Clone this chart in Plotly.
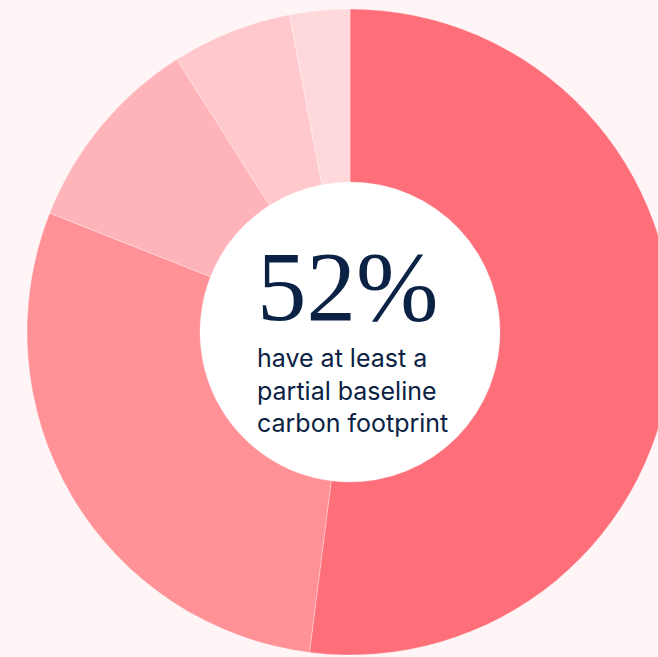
import plotly.graph_objects as go

labels = ["At least a partial baseline", "Segment 2", "Segment 3", "Segment 4", "Segment 5"]
values = [52, 29, 10, 6, 3]
colors = ["#FF6F7A", "#FF9197", "#FFB4BA", "#FFC8CC", "#FFD8DB"]
headline = "52%"
subtext = "have at least a<br>partial baseline<br>carbon footprint"

W, H = 700, 657
cx, cy, R, RH = 350, 332, 323, 150

fig = go.Figure(go.Pie(
    labels=labels, values=values, sort=False, direction="clockwise", rotation=0,
    hole=RH / R, textinfo="none", hoverinfo="label+percent",
    marker=dict(colors=colors, line=dict(color="rgba(255,255,255,0.3)", width=1)),
    domain=dict(x=[(cx - R) / W, (cx + R) / W], y=[(H - cy - R) / H, (H - cy + R) / H]),
    showlegend=False,
))

fig.add_shape(type="circle", xref="paper", yref="paper", layer="below",
              x0=(cx - RH) / W, x1=(cx + RH) / W,
              y0=(H - cy - RH) / H, y1=(H - cy + RH) / H,
              fillcolor="white", line=dict(width=0))

fig.add_annotation(text=headline, xref="paper", yref="paper", x=255 / W, y=(H - 286) / H,
                   xanchor="left", yanchor="middle", showarrow=False,
                   font=dict(family="Liberation Serif", size=99, color="#0B2244"))
fig.add_annotation(text=subtext, xref="paper", yref="paper", x=255 / W, y=(H - 390) / H,
                   xanchor="left", yanchor="middle", align="left", showarrow=False,
                   font=dict(family="Inter", size=25, color="#0B2244"))

fig.update_layout(width=W, height=H, margin=dict(l=0, r=0, t=0, b=0),
                  paper_bgcolor="#FFF5F6", plot_bgcolor="#FFF5F6")

fig.write_html("out.html", config={"displayModeBar": False},
               post_script="document.body.style.margin='0';document.body.style.overflow='hidden';document.documentElement.style.overflow='hidden';")
